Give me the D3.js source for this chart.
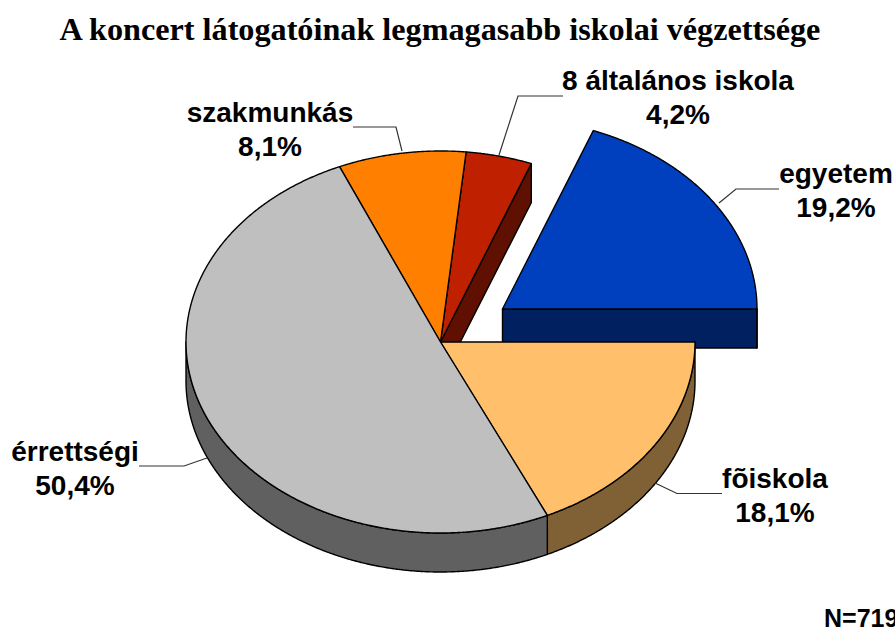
<!DOCTYPE html>
<html><head><meta charset="utf-8">
<script src="https://cdn.jsdelivr.net/npm/d3@7/dist/d3.min.js"></script>
<style>html,body{margin:0;padding:0;background:#fff;overflow:hidden}svg{display:block}</style>
</head><body><svg id="c" width="895" height="630"></svg>
<script>
const chartTitle = "A koncert látogatóinak legmagasabb iskolai végzettsége";
const note = "N=719";
const categories = ["egyetem","fõiskola","érrettségi","szakmunkás","8 általános iskola"];
const values = [19.2,18.1,50.4,8.1,4.2];
const topColors = ["#0040BF","#FFBF6B","#BFBFBF","#FF8000","#BF2000"];
const sideColors = ["#002060","#806035","#606060","#804000","#601000"];
const exploded = [true,false,false,false,false];

const cx=440.5, cy=342, rx=254.5, ry=191, depth=39, ox=62, oy=-33;
const startAngle = 20.9*Math.PI/180;
const svg=d3.select("#c");
const pie=d3.pie().sort(null).value(d=>d).startAngle(startAngle).endAngle(startAngle+2*Math.PI);
const arcs=pie(values).map((a,i)=>({...a,i,name:categories[i]}));
const X=a=>Math.sin(a)*rx, Y=a=>-Math.cos(a)*ry;
const off=d=>exploded[d.i]?[cx+ox,cy+oy]:[cx,cy];
function styled(sel,fill){return sel.attr("fill",fill).attr("stroke","#000").attr("stroke-width",1.4).attr("stroke-linejoin","round");}
const rim=(lo,hi)=>{const n=Math.ceil((hi-lo)/0.005);return d3.range(n+1).map(k=>lo+(hi-lo)*k/n);};
const area=d3.line();
// outer wall: visible part of the rim, between 90deg and 270deg
function wallPath(d){
  const lo=Math.max(d.startAngle,Math.PI/2), hi=Math.min(d.endAngle,1.5*Math.PI);
  if(hi<=lo) return null;
  const a=rim(lo,hi);
  return area(a.map(t=>[X(t),Y(t)]).concat(a.slice().reverse().map(t=>[X(t),Y(t)+depth])))+"Z";
}
// flat cut face along a radius, seen from the front
const cutPath=a=>area([[0,0],[X(a),Y(a)],[X(a),Y(a)+depth],[0,depth]])+"Z";
function topPath(d){
  const a=rim(d.startAngle,d.endAngle);
  return area([[0,0]].concat(a.map(t=>[X(t),Y(t)])))+"Z";
}
[0,4,3,1,2].forEach(i=>{
  const d=arcs[i], g=svg.append("g").attr("transform",`translate(${off(d)})`);
  if(i===0||i===4) styled(g.append("path").attr("d",cutPath(d.endAngle)),sideColors[i]);
  const w=wallPath(d);
  if(w) styled(g.append("path").attr("d",w),sideColors[i]);
  styled(g.append("path").attr("d",topPath(d)),topColors[i]);
});

// leader lines, labels
const labels=[
 {i:0,x:836,y:183,pts:[[719,203],[736,189],[779,189]]},
 {i:1,x:775,y:488,pts:[[655,483],[677,493.5],[722,493.5]]},
 {i:2,x:75,y:461,pts:[[207,458],[184,466],[139,466]]},
 {i:3,x:270,y:122,pts:[[402,151],[396,127],[353,127]]},
 {i:4,x:678,y:90,pts:[[499,155],[518,96],[563,96]]}
];
const leader=d3.line();
labels.forEach(l=>{
  svg.append("path").attr("d",leader(l.pts)).attr("fill","none").attr("stroke","#333").attr("stroke-width",1.2);
  const t=svg.append("text").attr("text-anchor","middle")
    .attr("font-family","'Liberation Sans',Arial,sans-serif").attr("font-weight","bold")
    .attr("font-size",28).attr("fill","#000");
  t.append("tspan").attr("x",l.x).attr("y",l.y).text(categories[l.i]);
  t.append("tspan").attr("x",l.x).attr("y",l.y+34).text(d3.format(".1f")(values[l.i]).replace(".",",")+"%");
});
svg.append("text").attr("x",440).attr("y",40).attr("text-anchor","middle")
  .attr("font-family","'Liberation Serif','Times New Roman',serif").attr("font-weight","bold")
  .attr("font-size",32.2).text(chartTitle);
svg.append("text").attr("x",824).attr("y",627).attr("font-family","'Liberation Sans',Arial,sans-serif")
  .attr("font-weight","bold").attr("font-size",25).text(note);
</script></body></html>
